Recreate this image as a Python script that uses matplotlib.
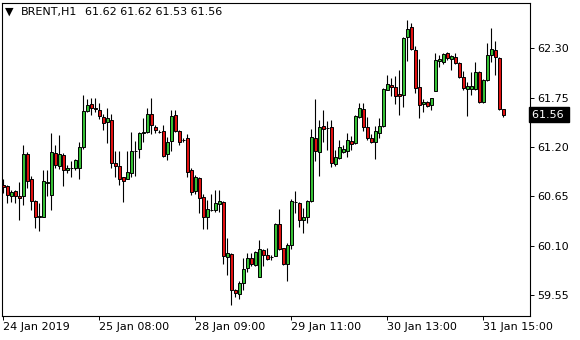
import matplotlib
matplotlib.use("Agg")
import matplotlib.pyplot as plt
import matplotlib.transforms as mtransforms
import numpy as np

# hourly BRENT candles
opens = [60.78, 60.76, 60.65, 60.71, 60.65, 60.65, 61.12, 60.84, 60.60, 60.42,
         60.42, 60.80, 60.66, 61.13, 60.99, 61.11, 60.94, 60.97, 60.96, 60.97,
         61.20, 61.60, 61.68, 61.63, 61.61, 61.53, 61.48, 61.50, 61.02, 60.99,
         60.86, 60.84, 60.91, 61.16, 61.18, 61.36, 61.37, 61.57, 61.42, 61.37,
         61.38, 61.12, 61.27, 61.56, 61.38, 61.28, 61.30, 60.94, 60.71, 60.85,
         60.64, 60.42, 60.50, 60.50, 60.56, 60.59, 59.97, 60.01, 59.61, 59.56,
         59.68, 59.85, 59.96, 59.88, 59.75, 60.05, 60.00, 59.97, 59.98, 60.34,
         60.07, 59.89, 60.11, 60.59, 60.58, 60.38, 60.42, 60.60, 61.30, 61.14,
         61.43, 61.41, 61.42, 61.01, 61.08, 61.14, 61.15, 61.27, 61.24, 61.53,
         61.62, 61.42, 61.30, 61.25, 61.36, 61.43, 61.84, 61.89, 61.87, 61.79,
         61.78, 62.42, 62.54, 62.28, 61.87, 61.68, 61.70, 61.67, 61.82, 62.16,
         62.15, 62.25, 62.18, 62.20, 62.14, 61.98, 61.85, 61.85, 61.85, 62.04,
         61.70, 61.95, 62.22, 62.28, 62.19, 61.62]
highs = [60.84, 60.78, 60.72, 60.72, 60.81, 61.22, 61.14, 60.88, 60.61, 60.58,
         60.94, 60.94, 61.36, 61.22, 61.33, 61.13, 61.00, 61.04, 61.06, 61.25,
         61.78, 61.73, 61.74, 61.75, 61.69, 61.57, 61.63, 61.57, 61.15, 61.15,
         60.86, 61.15, 61.37, 61.27, 61.37, 61.52, 61.63, 61.74, 61.44, 61.39,
         61.44, 61.31, 61.61, 61.61, 61.39, 61.30, 61.34, 60.96, 60.89, 60.86,
         60.68, 60.61, 60.67, 60.72, 60.72, 60.60, 60.18, 60.02, 59.62, 59.70,
         59.96, 60.02, 60.02, 60.04, 60.16, 60.06, 60.07, 60.00, 60.35, 60.51,
         60.07, 60.13, 60.62, 60.71, 60.59, 60.52, 60.61, 61.40, 61.73, 61.50,
         61.61, 61.49, 61.50, 61.17, 61.28, 61.22, 61.36, 61.32, 61.56, 61.69,
         61.69, 61.53, 61.34, 61.43, 61.52, 61.86, 62.00, 61.97, 61.99, 62.06,
         62.42, 62.62, 62.58, 62.33, 62.18, 61.73, 61.71, 61.75, 62.25, 62.23,
         62.25, 62.26, 62.22, 62.25, 62.15, 62.05, 61.92, 62.03, 62.15, 62.05,
         61.96, 62.36, 62.53, 62.38, 62.20, 61.62]
lows = [60.69, 60.57, 60.59, 60.57, 60.39, 60.55, 60.74, 60.50, 60.30, 60.26,
        60.42, 60.65, 60.50, 60.96, 60.95, 60.76, 60.91, 60.87, 60.94, 60.84,
        61.18, 61.59, 61.56, 61.59, 61.51, 61.39, 61.24, 60.96, 60.87, 60.78,
        60.59, 60.84, 60.86, 60.88, 61.08, 61.25, 61.35, 61.34, 61.35, 61.35,
        61.09, 61.05, 61.15, 61.37, 61.22, 61.26, 60.86, 60.66, 60.68, 60.46,
        60.29, 60.29, 60.49, 60.48, 60.47, 59.90, 59.77, 59.44, 59.53, 59.51,
        59.60, 59.81, 59.87, 59.87, 59.75, 59.87, 59.94, 59.94, 59.98, 60.05,
        59.88, 59.70, 60.06, 60.46, 60.31, 60.24, 60.35, 60.59, 61.04, 60.88,
        61.26, 61.17, 60.98, 60.99, 61.07, 61.13, 61.09, 61.17, 61.23, 61.52,
        61.38, 61.28, 61.24, 61.06, 61.30, 61.42, 61.83, 61.77, 61.68, 61.56,
        61.65, 62.16, 62.28, 61.80, 61.52, 61.59, 61.65, 61.61, 61.82, 62.09,
        62.13, 62.17, 62.06, 62.13, 61.97, 61.84, 61.54, 61.78, 61.84, 61.69,
        61.69, 61.94, 62.15, 62.00, 61.61, 61.53]
closes = [60.75, 60.66, 60.70, 60.65, 60.63, 61.12, 60.82, 60.60, 60.42, 60.43,
          60.82, 60.81, 61.14, 61.00, 61.12, 60.94, 60.97, 60.97, 61.05, 61.20,
          61.60, 61.67, 61.63, 61.62, 61.54, 61.47, 61.52, 61.02, 60.99, 60.84,
          60.82, 60.92, 61.15, 61.16, 61.36, 61.37, 61.57, 61.44, 61.39, 61.37,
          61.10, 61.25, 61.54, 61.38, 61.26, 61.28, 60.92, 60.70, 60.87, 60.63,
          60.42, 60.51, 60.50, 60.57, 60.60, 59.98, 60.02, 59.61, 59.57, 59.68,
          59.84, 59.96, 59.90, 60.03, 60.06, 59.99, 59.95, 59.97, 60.34, 60.06,
          59.90, 60.11, 60.60, 60.59, 60.38, 60.42, 60.60, 61.31, 61.15, 61.42,
          61.40, 61.41, 61.02, 61.09, 61.20, 61.18, 61.28, 61.23, 61.55, 61.63,
          61.42, 61.30, 61.26, 61.38, 61.43, 61.85, 61.90, 61.87, 61.77, 61.77,
          62.41, 62.52, 62.29, 61.86, 61.67, 61.70, 61.66, 61.74, 62.17, 62.18,
          62.24, 62.19, 62.21, 62.14, 61.98, 61.86, 61.88, 61.88, 62.04, 61.70,
          61.95, 62.22, 62.29, 62.20, 61.62, 61.56]

time_labels = ["24 Jan 2019", "25 Jan 08:00", "28 Jan 09:00",
               "29 Jan 11:00", "30 Jan 13:00", "31 Jan 15:00"]
time_label_bars = [0, 24, 48, 72, 96, 120]
price_ticks = [59.55, 60.10, 60.65, 61.20, 61.75, 62.30]

o = np.array(opens)
h = np.array(highs)
l = np.array(lows)
c = np.array(closes)
x = np.arange(len(o))

bull = "#35c035"
bear = "#e01010"
colors = []
for oo, cc in zip(o, c):
    if cc > oo:
        colors.append(bull)
    elif cc < oo:
        colors.append(bear)
    else:
        colors.append("black")

fig = plt.figure(figsize=(5.8, 3.4), dpi=100)
ax = fig.add_axes([2 / 580, 1 - 315.5 / 340, 528 / 580, 313 / 340])

# wicks first, bodies on top
ax.vlines(x, l, h, color="black", linewidth=0.8, zorder=2)
ax.bar(x, np.abs(c - o), bottom=np.minimum(o, c), width=0.7,
       color=colors, edgecolor="black", linewidth=0.7, zorder=3)

ax.set_xlim(-0.325, 131.7)
ax.set_ylim(59.321, 62.81)

ax.yaxis.tick_right()
ax.set_yticks(price_ticks)
ax.set_yticklabels(["%.2f" % p for p in price_ticks])
ax.set_xticks(time_label_bars)
ax.set_xticklabels(time_labels, ha="left")
ax.tick_params(axis="both", direction="out", length=3, width=0.7,
               labelsize=8, colors="black")
ax.tick_params(axis="x", pad=2)
ax.tick_params(axis="y", pad=2)

for s in ax.spines.values():
    s.set_linewidth(0.8)
    s.set_color("black")

# current price tag on the right scale
trans = mtransforms.blended_transform_factory(ax.transAxes, ax.transData)
ax.text(1.003, c[-1], "%.2f " % c[-1], transform=trans, color="white",
        fontsize=8, va="center", ha="left",
        bbox=dict(facecolor="black", edgecolor="black", boxstyle="square,pad=0.2"))

# header line
fig.text(5 / 580, 1 - 12 / 340, "\u25bc", fontsize=8, va="center", ha="left")
fig.text(21 / 580, 1 - 12 / 340, "BRENT,H1", fontsize=8, va="center", ha="left")
fig.text(85 / 580, 1 - 12 / 340, "%.2f %.2f %.2f %.2f" % (o[-1], h[-1], l[-1], c[-1]),
         fontsize=8, va="center", ha="left")

fig.savefig("out.png", dpi=100)
